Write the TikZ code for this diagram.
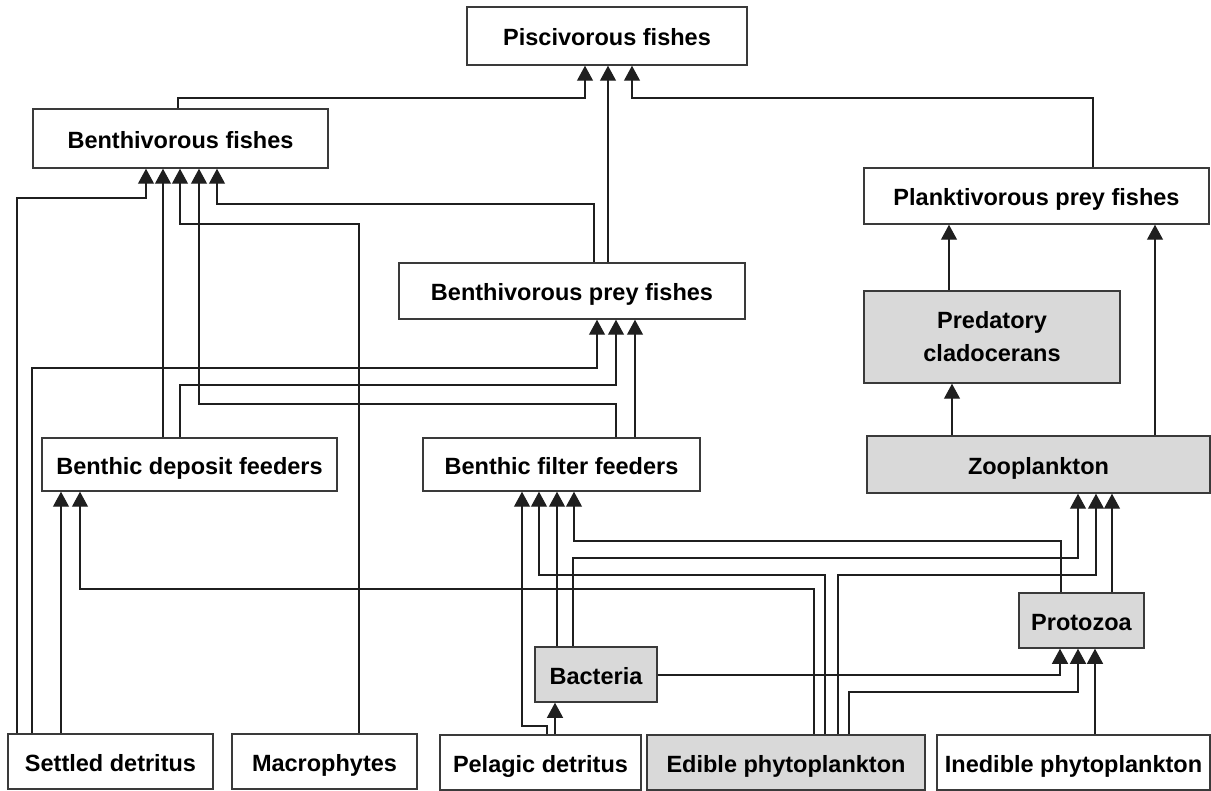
\documentclass[tikz,border=0pt]{standalone}
\usepackage{fontspec}
\setmainfont{Liberation Sans}
\usetikzlibrary{arrows.meta}
\definecolor{boxgrey}{HTML}{D9D9D9}
\definecolor{edge}{HTML}{3A3A3A}
\begin{document}
\begin{tikzpicture}[x=1pt,y=-1pt,
  boxbase/.style={draw=edge, line width=1.5pt, fill=white, inner sep=0pt, align=center,
    font=\fontsize{23.5}{33}\selectfont\bfseries},
  box/.style={boxbase, text height=22pt, text depth=2pt},
  gbox/.style={box, fill=boxgrey},
  arr/.style={draw=black!88, line width=1.2pt, -{Triangle[width=16pt,length=15pt]}}]
\useasboundingbox (0,0) rectangle (1211,791);
% nodes
\node[box,  minimum width=280pt, minimum height=58pt] (pisc)     at (607,36)     {Piscivorous fishes};
\node[box,  minimum width=295pt, minimum height=59pt] (bfish)    at (180.5,138.5) {Benthivorous fishes};
\node[box,  minimum width=345pt, minimum height=56pt] (plank)    at (1036.5,196) {Planktivorous prey fishes};
\node[boxbase, fill=boxgrey, minimum width=256pt, minimum height=92pt] (pred) at (992,337) {Predatory\\cladocerans};
\node[gbox, minimum width=343pt, minimum height=57pt] (zoo)      at (1038.5,464.5) {Zooplankton};
\node[box,  minimum width=346pt, minimum height=56pt] (bprey)    at (572,291)    {Benthivorous prey fishes};
\node[box,  minimum width=295pt, minimum height=53pt] (bdep)     at (189.5,464.5) {Benthic deposit feeders};
\node[box,  minimum width=277pt, minimum height=53pt] (bfilt)    at (561.5,464.5) {Benthic filter feeders};
\node[gbox, minimum width=125pt, minimum height=55pt] (proto)    at (1081.5,620.5) {Protozoa};
\node[gbox, minimum width=122pt, minimum height=55pt] (bact)     at (596,674.5)  {Bacteria};
\node[box,  minimum width=201pt, minimum height=55pt] (pelag)    at (540.5,762.5) {Pelagic detritus};
\node[gbox, minimum width=278pt, minimum height=55pt] (edible)   at (786,762.5)  {Edible phytoplankton};
\node[box,  minimum width=205pt, minimum height=55pt] (settled)  at (110.5,761.5) {Settled detritus};
\node[box,  minimum width=185pt, minimum height=55pt] (macro)    at (324.5,761.5) {Macrophytes};
\node[box,  minimum width=273pt, minimum height=55pt] (inedible) at (1073.5,762.5) {Inedible phytoplankton};
% connectors to piscivorous fishes
\draw[arr] (bfish.north -| 178,0) -- (178,98) -| (pisc.south -| 585,0);
\draw[arr] (bprey.north -| 608,0) -- (pisc.south -| 608,0);
\draw[arr] (plank.north -| 1093,0) -- (1093,98) -| (pisc.south -| 632,0);
% to benthivorous fishes
\draw[arr] (settled.north -| 17,0) -- (17,198) -| (bfish.south -| 146,0);
\draw[arr] (bdep.north -| 163,0) -- (bfish.south -| 163,0);
\draw[arr] (macro.north -| 359,0) -- (359,224) -| (bfish.south -| 180,0);
\draw[arr] (bfilt.north -| 616,0) -- (616,404) -| (bfish.south -| 199,0);
\draw[arr] (bprey.north -| 594,0) -- (594,204) -| (bfish.south -| 217,0);
% to benthivorous prey fishes
\draw[arr] (settled.north -| 32,0) -- (32,368) -| (bprey.south -| 597,0);
\draw[arr] (bdep.north -| 180,0) -- (180,385) -| (bprey.south -| 616,0);
\draw[arr] (bfilt.north -| 635,0) -- (bprey.south -| 635,0);
% planktivorous side
\draw[arr] (pred.north -| 949,0) -- (plank.south -| 949,0);
\draw[arr] (zoo.north -| 1155,0) -- (plank.south -| 1155,0);
\draw[arr] (zoo.north -| 952,0) -- (pred.south -| 952,0);
% to benthic deposit feeders
\draw[arr] (settled.north -| 61,0) -- (bdep.south -| 61,0);
\draw[arr] (edible.north -| 814,0) -- (814,589) -| (bdep.south -| 80,0);
% to benthic filter feeders
\draw[arr] (pelag.north -| 547,0) -- (547,726) -| (bfilt.south -| 522,0);
\draw[arr] (edible.north -| 825,0) -- (825,575) -| (bfilt.south -| 539,0);
\draw[arr] (bact.north -| 557,0) -- (bfilt.south -| 557,0);
\draw[arr] (proto.north -| 1061,0) -- (1061,541) -| (bfilt.south -| 574,0);
% to zooplankton
\draw[arr] (bact.north -| 573,0) -- (573,558) -| (zoo.south -| 1078,0);
\draw[arr] (edible.north -| 838,0) -- (838,575) -| (zoo.south -| 1096,0);
\draw[arr] (proto.north -| 1112,0) -- (zoo.south -| 1112,0);
% to protozoa
\draw[arr] (bact.east |- 0,675) -| (proto.south -| 1060,0);
\draw[arr] (edible.north -| 849,0) -- (849,692) -| (proto.south -| 1078,0);
\draw[arr] (inedible.north -| 1095,0) -- (proto.south -| 1095,0);
% to bacteria
\draw[arr] (pelag.north -| 555,0) -- (bact.south -| 555,0);
\end{tikzpicture}
\end{document}
